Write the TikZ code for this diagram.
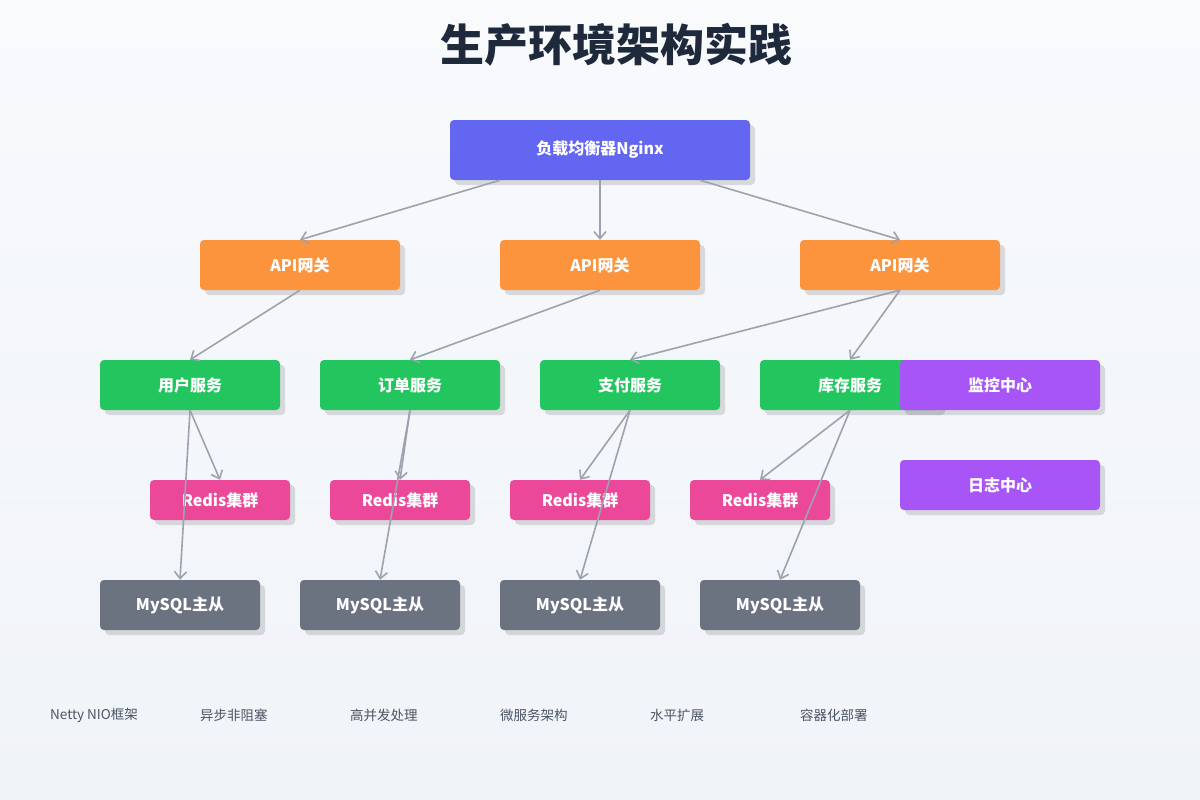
\documentclass[tikz,border=0pt]{standalone}
\usepackage{fontspec}
\setmainfont{Noto Sans CJK SC}
\usepackage{tikz}
\usetikzlibrary{
  arrows.meta,
  shadows
}
\definecolor{prBgTop}{HTML}{F8FAFC}
\definecolor{prBgBot}{HTML}{F0F3F8}
\definecolor{prTitle}{HTML}{1E293B}
\definecolor{prLB}{HTML}{6366F1}
\definecolor{prGW}{HTML}{FB943C}
\definecolor{prSvc}{HTML}{22C55E}
\definecolor{prOps}{HTML}{A855F7}
\definecolor{prRedis}{HTML}{EC4899}
\definecolor{prDB}{HTML}{6B7280}
\definecolor{prLine}{HTML}{9CA3AF}
\definecolor{prNote}{HTML}{4B5563}
\tikzset{
  prnode/.style={
    rounded corners=4pt, text=white, font=\fontsize{16}{19}\selectfont\bfseries,
    inner sep=0pt, align=center,
    drop shadow={shadow xshift=5pt, shadow yshift=-5pt, fill=black, opacity=0.12}
  },
  lb/.style={prnode, fill=prLB, minimum width=300pt, minimum height=60pt},
  gateway/.style={prnode, fill=prGW, minimum width=200pt, minimum height=50pt},
  service/.style={prnode, fill=prSvc, minimum width=180pt, minimum height=50pt},
  opsbox/.style={prnode, fill=prOps, minimum width=200pt, minimum height=50pt},
  cache/.style={prnode, fill=prRedis, minimum width=140pt, minimum height=40pt},
  dbbox/.style={prnode, fill=prDB, minimum width=160pt, minimum height=50pt},
  link/.style={-{Straight Barb[length=7pt, width=12pt]}, line width=1.6pt, prLine},
  note/.style={anchor=west, inner sep=0pt, text=prNote, font=\fontsize{13.5}{16}\selectfont}
}
\begin{document}
\begin{tikzpicture}[x=1pt, y=-1pt]
  \shade[top color=prBgTop, bottom color=prBgBot] (0,0) rectangle (1200,800);
  \useasboundingbox (0,0) rectangle (1200,800);

  \node[font=\fontsize{44}{50}\selectfont\bfseries, text=prTitle] (title) at (616,45) {生产环境架构实践};

  % entry and gateways
  \node[lb] (lb) at (600,150) {负载均衡器Nginx};
  \node[gateway] (gw1) at (300,265) {API网关};
  \node[gateway] (gw2) at (600,265) {API网关};
  \node[gateway] (gw3) at (900,265) {API网关};

  % services
  \node[service] (user) at (190,385) {用户服务};
  \node[service] (order) at (410,385) {订单服务};
  \node[service] (pay) at (630,385) {支付服务};
  \node[service] (stock) at (850,385) {库存服务};
  \node[opsbox] (mon) at (1000,385) {监控中心};
  \node[opsbox] (log) at (1000,485) {日志中心};

  % storage
  \node[cache] (redis1) at (220,500) {Redis集群};
  \node[cache] (redis2) at (400,500) {Redis集群};
  \node[cache] (redis3) at (580,500) {Redis集群};
  \node[cache] (redis4) at (760,500) {Redis集群};
  \node[dbbox] (db1) at (180,605) {MySQL主从};
  \node[dbbox] (db2) at (380,605) {MySQL主从};
  \node[dbbox] (db3) at (580,605) {MySQL主从};
  \node[dbbox] (db4) at (780,605) {MySQL主从};

  \draw[link] ([xshift=-100pt]lb.south) -- (gw1.north);
  \draw[link] (lb.south) -- (gw2.north);
  \draw[link] ([xshift=100pt]lb.south) -- (gw3.north);
  \foreach \s/\e in {gw1/user, gw2/order, gw3/pay, gw3/stock,
    user/redis1, user/db1, order/redis2, order/db2,
    pay/redis3, pay/db3, stock/redis4, stock/db4}{\draw[link] (\s.south) -- (\e.north);}

  % feature notes
  \node[note] (n1) at (50,715) {Netty NIO框架};
  \node[note] (n2) at (200,715) {异步非阻塞};
  \node[note] (n3) at (350,715) {高并发处理};
  \node[note] (n4) at (500,715) {微服务架构};
  \node[note] (n5) at (650,715) {水平扩展};
  \node[note] (n6) at (800,715) {容器化部署};
\end{tikzpicture}
\end{document}
